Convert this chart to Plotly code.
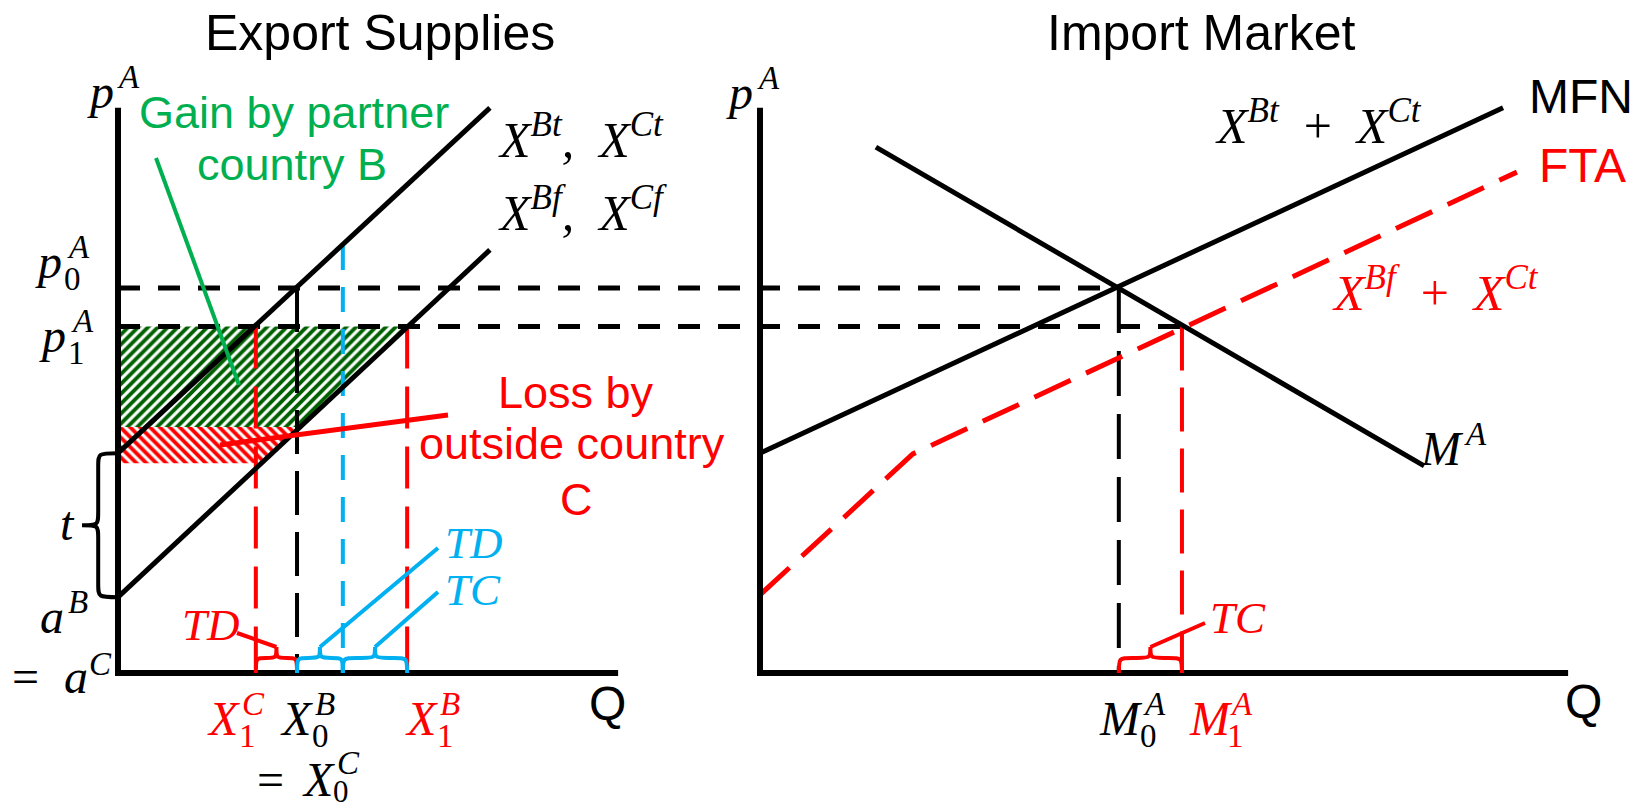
import plotly.graph_objects as go

# ── values (Q and p in diagram units) ───────────────────────────────────────
P_TOP = 14.68
P0, P1 = 10.0, 9.0
A_B, A_T = 1.97, 5.71          # a^B (= a^C) and a^B + t

# export supplies (left panel)
SUP_T_Q = [0.0, 9.66]
SUP_T_P = [5.71, 14.68]
SUP_F_Q = [0.0, 9.66]
SUP_F_P = [1.97, 10.99]
X1C, X0B, X_MID, X1B = 3.58, 4.65, 5.84, 7.51
X_MID_TOP = 11.12
LEFT_QMAX = 12.99
GAIN_Q = [0.0, 7.51, 4.74, 0.0]
GAIN_P = [9.0, 9.0, 6.39, 6.39]
LOSS_Q = [0.0, 4.74, 3.73, 0.0]
LOSS_P = [6.39, 6.39, 5.45, 5.45]

# import market (right panel)
MFN_Q = [0.0, 19.30]
MFN_P = [5.71, 14.68]
FTA_Q = [0.0, 3.97, 19.66]
FTA_P = [2.03, 5.69, 13.01]
MA_Q = [3.01, 17.25]
MA_P = [13.66, 5.38]
M0, M1 = 9.32, 10.96
RIGHT_QMAX = 20.99

# ── layout constants ─────────────────────────────────────────────────────────
W, H = 1642, 811
UNIT = 38.5                     # pixels per diagram unit
OX_L, OX_R, OY = 118, 760, 673  # axis corners of the two panels
SHIFT = (OX_R - OX_L) / UNIT

RED, BLUE, GREEN, HATCH_GREEN = "#ff0000", "#00b0f0", "#00b050", "#006000"
SANS = "Liberation Sans, Arial, sans-serif"
SERIF = "Liberation Serif, Times New Roman, serif"
BR_H = 26 / UNIT


def ux(px):
    return (px - OX_L) / UNIT


def uy(py):
    return (OY - py) / UNIT


def rq(vals):
    return [v + SHIFT for v in vals]


fig = go.Figure()


def line(xs, ys, color="black", width=5, dash=None):
    fig.add_trace(go.Scatter(x=xs, y=ys, mode="lines", hoverinfo="skip", showlegend=False,
                             line=dict(color=color, width=width, dash=dash)))


def hatch(xs, ys, color, shape):
    fig.add_trace(go.Scatter(x=xs, y=ys, mode="lines", fill="toself", hoverinfo="skip",
                             showlegend=False, line=dict(width=0, color=color),
                             fillcolor="white",
                             fillpattern=dict(shape=shape, fgcolor=color, bgcolor="white",
                                              fgopacity=1, size=7, solidity=0.55)))


# hatched welfare areas
hatch(GAIN_Q, GAIN_P, HATCH_GREEN, "/")
hatch(LOSS_Q, LOSS_P, RED, "\\")

# price levels carried across both panels
line([0, SHIFT + M0], [P0, P0], dash="22px,18px")
line([0, SHIFT + M1], [P1, P1], dash="22px,18px")

# quantity markers
line([X1C, X1C], [P1, 0], RED, 4, "42px,18px")
line([X0B, X0B], [P0, 0], "black", 4, "44px,17px")
line([X_MID, X_MID], [X_MID_TOP, 0], BLUE, 4, "25px,17px")
line([X1B, X1B], [P1, 0], RED, 4, "42px,18px")
line(rq([M0, M0]), [P0, 0], "black", 4, "45px,18px")
line(rq([M1, M1]), [P1, 0], RED, 4, "44px,17px")

# curves
line(SUP_T_Q, SUP_T_P)
line(SUP_F_Q, SUP_F_P)
line(rq(MFN_Q), MFN_P)
line(rq(FTA_Q), FTA_P, RED, 5, "40px,17px")
line(rq(MA_Q), MA_P)

# axes
line([0, 0, LEFT_QMAX], [P_TOP, 0, 0], width=6)
line(rq([0, 0, RIGHT_QMAX]), [P_TOP, 0, 0], width=6)


# ── braces and pointers ──────────────────────────────────────────────────────
def hbrace(x0, x1, color):
    xm, y, ym, h = (x0 + x1) / 2, 0, BR_H * 0.58, BR_H
    r = min((x1 - x0) / 4, 0.35)
    p = (f"M{x0},{y} C{x0},{ym} {x0},{ym} {x0 + r},{ym} L{xm - r},{ym} "
         f"C{xm},{ym} {xm},{ym} {xm},{h} C{xm},{ym} {xm},{ym} {xm + r},{ym} "
         f"L{x1 - r},{ym} C{x1},{ym} {x1},{ym} {x1},{y}")
    fig.add_shape(type="path", path=p, xref="x", yref="y", line=dict(color=color, width=4))
    return xm


def vbrace(y0, y1, x_tip):
    ym, xm = (y0 + y1) / 2, x_tip * 0.55
    r = 0.35
    p = (f"M0,{y0} C{xm},{y0} {xm},{y0} {xm},{y0 - r} L{xm},{ym + r} "
         f"C{xm},{ym} {xm},{ym} {x_tip},{ym} C{xm},{ym} {xm},{ym} {xm},{ym - r} "
         f"L{xm},{y1 + r} C{xm},{y1} {xm},{y1} 0,{y1}")
    fig.add_shape(type="path", path=p, xref="x", yref="y", line=dict(color="black", width=4))


def pointer(x0, y0, x1, y1, color, width=4):
    fig.add_shape(type="line", xref="x", yref="y", x0=x0, y0=y0, x1=x1, y1=y1,
                  line=dict(color=color, width=width))


vbrace(A_T, A_B, ux(82))
td_l = hbrace(X1C, X0B, RED)
td_b = hbrace(X0B, X_MID, BLUE)
tc_b = hbrace(X_MID, X1B, BLUE)
tc_r = hbrace(SHIFT + M0, SHIFT + M1, RED)
pointer(td_l, BR_H, ux(237), uy(633), RED)
pointer(td_b, BR_H, ux(438), uy(548), BLUE)
pointer(tc_b, BR_H, ux(438), uy(592), BLUE)
pointer(tc_r, BR_H, ux(1205), uy(623), RED)
pointer(ux(156), uy(158), ux(239), uy(385), GREEN)
pointer(ux(448), uy(415), ux(220), uy(445), RED, 5)


# ── text ─────────────────────────────────────────────────────────────────────
def put(text, x, base, size, color="black", serif=True, anchor="left"):
    desc = 0.216 if serif else 0.212
    fig.add_annotation(text=text, xref="paper", yref="paper", x=x / W,
                       y=1 - (base + desc * size + 2) / H, xanchor=anchor, yanchor="bottom",
                       showarrow=False,
                       font=dict(family=SERIF if serif else SANS, size=size, color=color))


def it(s):
    return f"<i>{s}</i>"


def scripted(base, sup, sub, x, y, color="black", bw=35, size=48, ss=33):
    put(it(base), x, y, size, color)
    if sup:
        put(it(sup), x + bw, y - 20, ss, color)
    if sub:
        put(sub, x + bw - 3, y + 12, ss, color)


put("Export Supplies", 380, 50, 50, serif=False, anchor="center")
put("Import Market", 1201, 50, 50, serif=False, anchor="center")
put("MFN", 1527, 113, 48, serif=False)
put("FTA", 1537, 182, 48, RED, serif=False)
put("Gain by partner", 294, 128, 45, GREEN, serif=False, anchor="center")
put("country B", 292, 180, 45, GREEN, serif=False, anchor="center")
put("Loss by", 576, 408, 45, RED, serif=False, anchor="center")
put("outside country", 572, 459, 45, RED, serif=False, anchor="center")
put("C", 576, 515, 45, RED, serif=False, anchor="center")
put("Q", 607, 720, 48, serif=False, anchor="center")
put("Q", 1583, 718, 48, serif=False, anchor="center")

scripted("p", "A", None, 85, 108, bw=30)
scripted("p", "A", None, 724, 109, bw=31)
scripted("p", "A", "0", 33, 278, bw=32)
scripted("p", "A", "1", 37, 352, bw=32)
put(it("t"), 58, 540, 48)
scripted("a", "B", None, 38, 633, bw=28)
put("=", 10, 693, 48)
put(it("a"), 62, 693, 48)
put(it("C"), 87, 675, 33)

scripted("X", "C", "1", 205, 735, RED)
scripted("X", "B", "0", 278, 735)
scripted("X", "B", "1", 403, 735, RED)
put("=", 255, 796, 48)
put(it("X"), 300, 796, 48)
put(it("C"), 335, 774, 33)
put("0", 331, 802, 31)

scripted("M", "A", "0", 1097, 735, bw=44)
scripted("M", "A", "1", 1187, 735, RED, bw=41)
scripted("M", "A", None, 1418, 465, bw=44)

put(it("TD"), 180, 640, 45, RED)
put(it("TD"), 443, 558, 45, BLUE)
put(it("TC"), 443, 605, 45, BLUE)
put(it("TC"), 1208, 633, 45, RED)

put(it("X") + "<sup>" + it("Bt") + "</sup>" + it(",  X") + "<sup>" + it("Ct") + "</sup>", 496, 157, 50)
put(it("X") + "<sup>" + it("Bf") + "</sup>" + it(",  X") + "<sup>" + it("Cf") + "</sup>", 496, 230, 50)
put(it("X") + "<sup>" + it("Bt") + "</sup>  +  " + it("X") + "<sup>" + it("Ct") + "</sup>", 1213, 143, 50)
put(it("X") + "<sup>" + it("Bf") + "</sup>  +  " + it("X") + "<sup>" + it("Ct") + "</sup>", 1330, 310, 50, RED)

fig.update_xaxes(range=[ux(0), ux(W)], visible=False, fixedrange=True)
fig.update_yaxes(range=[uy(H), uy(0)], visible=False, fixedrange=True)
fig.update_layout(width=W, height=H, margin=dict(l=0, r=0, t=0, b=0, pad=0),
                  paper_bgcolor="white", plot_bgcolor="white", hovermode=False,
                  showlegend=False)

fig.write_html("out.html", config={"displayModeBar": False},
               post_script="document.body.style.margin='0';")
